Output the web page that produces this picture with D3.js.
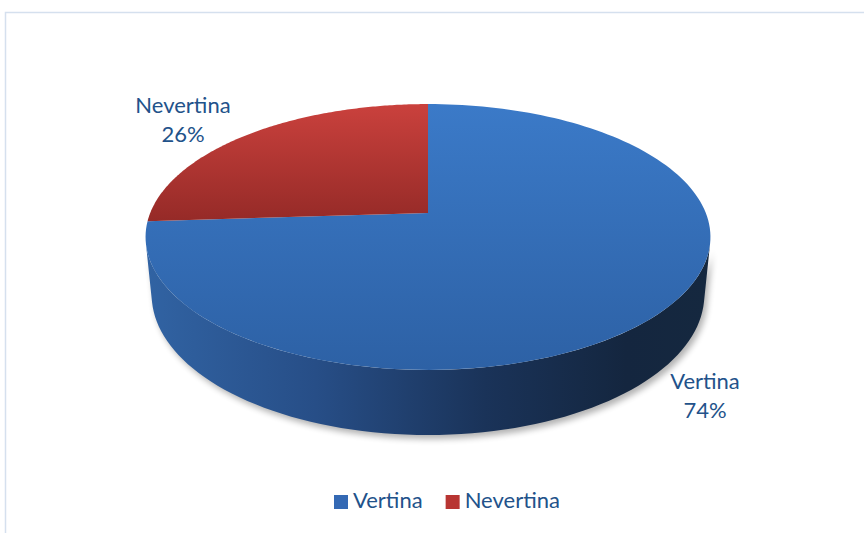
<!DOCTYPE html>
<html lang="en">
<head>
<meta charset="UTF-8">
<title>Vertina / Nevertina</title>
<style>
  body { margin: 0; background: #fff; }
  svg { display: block; font-family: Lato, "Open Sans", sans-serif; }
</style>
</head>
<body>
<svg id="chart" width="864" height="533"></svg>
<script src="https://d3js.org/d3.v7.min.js"></script>
<script>
// data
const categories = ["Vertina", "Nevertina"];
const values = [74, 26];
const percentLabels = ["74%", "26%"];

const svg = d3.select("#chart");
const defs = svg.append("defs");

// chart frame
svg.append("rect")
  .attr("x", 5.5).attr("y", 12.5)
  .attr("width", 900).attr("height", 600)
  .attr("fill", "#fff")
  .attr("stroke", "#d5e0ee").attr("stroke-width", 1.5);

// simple perspective projection of a tilted disc
const cx = 428, cy = 213;
const S = 0.456, C = 0.89, D = 4.935;
const FX = 1371, FY = 1391.7, T = 0.2316;
function proj(a, w, r = 1) {
  const u = Math.sin(a) * r, v = -Math.cos(a) * r;
  const t = w * T;
  const ycam = v * S + t * C;
  const z = D - v * C + t * S;
  return [cx + FX * u / z, cy + FY * ycam / z];
}

const pie = d3.pie().sort(null).value(d => d)(values);

// gradients
function vGrad(id, y1, y2, c1, c2) {
  const g = defs.append("linearGradient").attr("id", id)
    .attr("gradientUnits", "userSpaceOnUse")
    .attr("x1", 0).attr("x2", 0).attr("y1", y1).attr("y2", y2);
  g.append("stop").attr("offset", 0).attr("stop-color", c1);
  g.append("stop").attr("offset", 1).attr("stop-color", c2);
}
vGrad("topBlue", 104, 370, "#3b7ac8", "#2d61a5");
vGrad("topRed", 104, 222, "#ca413d", "#952a27");

const wallGrad = defs.append("linearGradient").attr("id", "wallBlue")
  .attr("gradientUnits", "userSpaceOnUse")
  .attr("x1", 146).attr("x2", 711).attr("y1", 0).attr("y2", 0);
[[0, "#3163a3"], [0.3, "#274e87"], [0.6, "#1a3359"], [0.85, "#14263f"], [1, "#15283f"]]
  .forEach(([o, c]) => wallGrad.append("stop").attr("offset", o).attr("stop-color", c));
const wallRed = defs.append("linearGradient").attr("id", "wallRed")
  .attr("gradientUnits", "userSpaceOnUse")
  .attr("x1", 146).attr("x2", 711).attr("y1", 0).attr("y2", 0);
wallRed.append("stop").attr("offset", 0).attr("stop-color", "#8f2a28");
wallRed.append("stop").attr("offset", 1).attr("stop-color", "#4a1412");

const blur = defs.append("filter").attr("id", "shadow")
  .attr("x", "-10%").attr("y", "-10%").attr("width", "120%").attr("height", "130%");
blur.append("feGaussianBlur").attr("stdDeviation", 3);

const topFills = ["url(#topBlue)", "url(#topRed)"];
const wallFills = ["url(#wallBlue)", "url(#wallRed)"];

function arcPoints(a0, a1, w, n) {
  const pts = [];
  for (let i = 0; i <= n; i++) pts.push(proj(a0 + (a1 - a0) * i / n, w));
  return pts;
}
const line = d3.line();

// visible front wall range: tangent points seen from the camera
const vTan = 1 / (D * C);
const frontA0 = Math.PI - Math.acos(vTan), frontA1 = Math.PI + Math.acos(vTan);

// shadow under the pie
const shadowPts = arcPoints(frontA0, frontA1, 1, 120)
  .concat(arcPoints(frontA1, frontA0, 0, 120));
svg.append("path")
  .attr("d", line(shadowPts) + "Z")
  .attr("fill", "#000").attr("opacity", 0.3)
  .attr("transform", "translate(3,4)")
  .attr("filter", "url(#shadow)");

// walls
const g = svg.append("g");
pie.forEach((d, i) => {
  const a0 = Math.max(d.startAngle, frontA0);
  const a1 = Math.min(d.endAngle, frontA1);
  if (a1 <= a0) return;
  const pts = arcPoints(a0, a1, 0, 80).concat(arcPoints(a1, a0, 1, 80));
  g.append("path").attr("d", line(pts) + "Z").attr("fill", wallFills[i]);
});

// top faces
pie.forEach((d, i) => {
  const pts = [[cx, cy]].concat(arcPoints(d.startAngle, d.endAngle, 0, 160));
  g.append("path").attr("d", line(pts) + "Z").attr("fill", topFills[i]);
});

// data labels
const textColor = "#22528a";
const labelPos = [[705, 389], [183, 113]];
pie.forEach((d, i) => {
  const t = svg.append("text")
    .attr("x", labelPos[i][0]).attr("y", labelPos[i][1])
    .attr("text-anchor", "middle")
    .attr("font-size", 22).attr("fill", textColor);
  t.append("tspan").attr("x", labelPos[i][0]).text(categories[i]);
  t.append("tspan").attr("x", labelPos[i][0]).attr("dy", 28.5).text(percentLabels[i]);
});

// legend
const legendFills = ["#3469b4", "#b83532"];
const legend = svg.append("g").attr("transform", "translate(334,495)");
let lx = 0;
categories.forEach((c, i) => {
  legend.append("rect").attr("x", lx).attr("y", 0)
    .attr("width", 14).attr("height", 14).attr("fill", legendFills[i]);
  const txt = legend.append("text").attr("x", lx + 19).attr("y", 12.5)
    .attr("font-size", 22).attr("fill", textColor).text(c);
  lx += 19 + txt.node().getComputedTextLength() + 23;
});
</script>
</body>
</html>
